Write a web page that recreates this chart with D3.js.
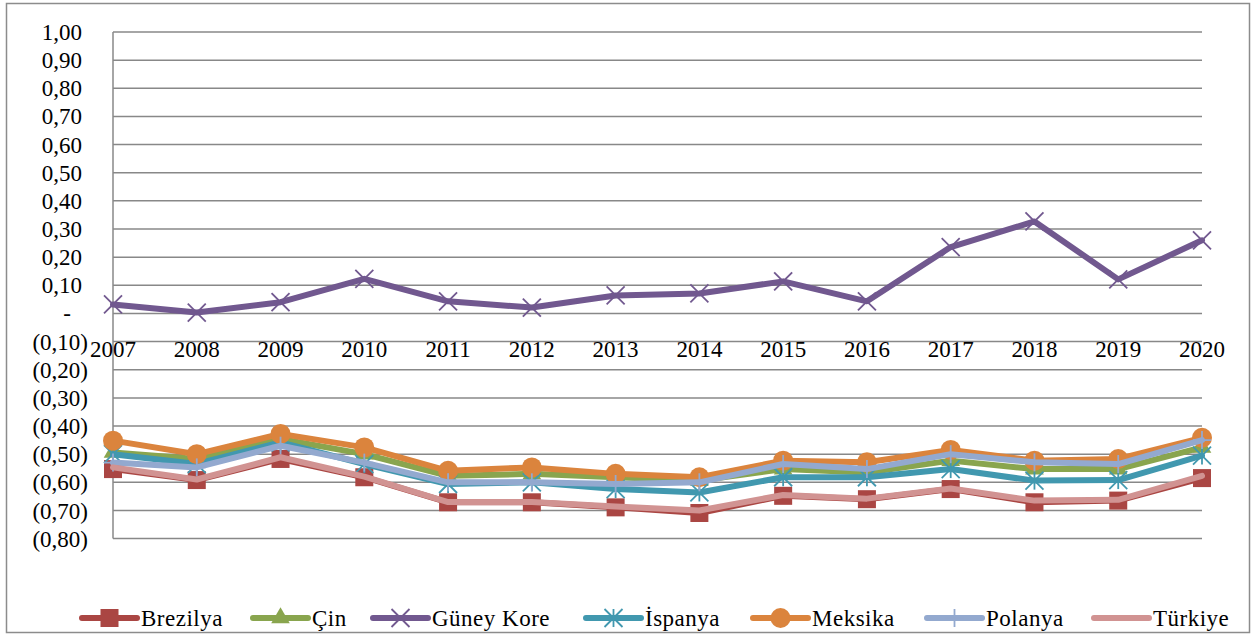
<!DOCTYPE html>
<html>
<head>
<meta charset="utf-8">
<script src="https://cdn.jsdelivr.net/npm/d3@7"></script>
<style>
  body { margin: 0; background: #fff; }
  text { font-family: "Liberation Serif", serif; fill: #000; }
</style>
</head>
<body>
<div id="chart"></div>
<script>
// data
var years = ["2007","2008","2009","2010","2011","2012","2013","2014","2015","2016","2017","2018","2019","2020"]
var brezilya  = [-0.553,-0.592,-0.517,-0.582,-0.671,-0.671,-0.689,-0.709,-0.648,-0.660,-0.624,-0.671,-0.665,-0.585]
var cin       = [-0.494,-0.517,-0.446,-0.500,-0.577,-0.570,-0.582,-0.594,-0.553,-0.565,-0.523,-0.553,-0.553,-0.476]
var guneyKore = [0.032,0.003,0.040,0.123,0.043,0.021,0.064,0.071,0.114,0.043,0.236,0.327,0.121,0.260]
var ispanya   = [-0.500,-0.535,-0.458,-0.535,-0.606,-0.600,-0.624,-0.636,-0.582,-0.582,-0.553,-0.594,-0.592,-0.505]
var meksika   = [-0.452,-0.500,-0.428,-0.476,-0.559,-0.547,-0.570,-0.582,-0.523,-0.529,-0.485,-0.523,-0.517,-0.442]
var polanya   = [-0.530,-0.547,-0.470,-0.530,-0.600,-0.600,-0.606,-0.600,-0.535,-0.553,-0.500,-0.529,-0.535,-0.450]
var turkiye   = [-0.547,-0.590,-0.511,-0.580,-0.670,-0.670,-0.686,-0.700,-0.645,-0.658,-0.622,-0.665,-0.662,-0.577]
var yTicks = [1.0,0.9,0.8,0.7,0.6,0.5,0.4,0.3,0.2,0.1,0,-0.1,-0.2,-0.3,-0.4,-0.5,-0.6,-0.7,-0.8]

var series = [
  {name: "Brezilya",   values: brezilya,  color: "#AA4643", marker: "square"},
  {name: "Çin",        values: cin,       color: "#89A54E", marker: "triangle"},
  {name: "Güney Kore", values: guneyKore, color: "#71588F", marker: "x"},
  {name: "İspanya",    values: ispanya,   color: "#4198AF", marker: "star"},
  {name: "Meksika",    values: meksika,   color: "#DB843D", marker: "circle"},
  {name: "Polanya",    values: polanya,   color: "#93A9CF", marker: "plus"},
  {name: "Türkiye",    values: turkiye,   color: "#D19392", marker: "none"}
]

var width = 1253, height = 637
var plotLeft = 113, plotRight = 1202, plotTop = 32, plotBottom = 538.6

var svg = d3.select("#chart").append("svg")
    .attr("width", width)
    .attr("height", height)

// outer frame
svg.append("rect")
    .attr("x", 6.5).attr("y", 3.5)
    .attr("width", 1243).attr("height", 629)
    .attr("fill", "none").attr("stroke", "#8c8c8c").attr("stroke-width", 1.5)

var x = d3.scalePoint().domain(years).range([plotLeft, plotRight])
var y = d3.scaleLinear().domain([-0.8, 1.0]).range([plotBottom, plotTop])

function fmt(v) {
  if (Math.abs(v) < 1e-9) return "-"
  var s = Math.abs(v).toFixed(2).replace(".", ",")
  return v < 0 ? "(" + s + ")" : s
}

// gridlines
svg.append("g")
  .selectAll("line")
  .data(yTicks)
  .join("line")
    .attr("x1", plotLeft).attr("x2", plotRight)
    .attr("y1", d => y(d)).attr("y2", d => y(d))
    .attr("stroke", "#888").attr("stroke-width", 1.5)

// y axis line
svg.append("line")
    .attr("x1", plotLeft).attr("x2", plotLeft)
    .attr("y1", plotTop).attr("y2", plotBottom)
    .attr("stroke", "#888").attr("stroke-width", 1.5)

// y labels
svg.append("g")
    .attr("font-size", 23)
  .selectAll("text")
  .data(yTicks)
  .join("text")
    .attr("x", d => d < 0 ? 88 : (d === 0 ? 67 : 82))
    .attr("y", d => y(d))
    .attr("dy", "0.35em")
    .attr("text-anchor", d => d === 0 ? "middle" : "end")
    .text(fmt)

// x labels
svg.append("g")
    .attr("font-size", 23)
    .attr("text-anchor", "middle")
  .selectAll("text")
  .data(years)
  .join("text")
    .attr("x", d => x(d))
    .attr("y", 357)
    .text(d => d)

function drawMarker(g, type, color) {
  if (type === "square") {
    g.append("rect").attr("x", -9).attr("y", -9).attr("width", 18).attr("height", 18).attr("fill", color)
  } else if (type === "circle") {
    g.append("circle").attr("r", 10).attr("fill", color)
  } else if (type === "triangle") {
    g.append("path").attr("d", d3.symbol(d3.symbolTriangle, 150)()).attr("fill", color)
  } else if (type === "x" || type === "star" || type === "plus") {
    var r = 9
    var segs = []
    if (type !== "plus") segs.push([-r, -r, r, r], [-r, r, r, -r])
    if (type !== "x") segs.push([0, -r, 0, r])
    if (type === "plus") segs.push([-r, 0, r, 0])
    segs.forEach(s => {
      g.append("line").attr("x1", s[0]).attr("y1", s[1]).attr("x2", s[2]).attr("y2", s[3])
        .attr("stroke", color).attr("stroke-width", 1.8)
    })
  }
}

var line = d3.line()
    .x((d, i) => x(years[i]))
    .y(d => y(d))

series.forEach(function(s) {
  var g = svg.append("g")
  g.append("path")
      .attr("d", line(s.values))
      .attr("fill", "none")
      .attr("stroke", s.color)
      .attr("stroke-width", 6)
      .attr("stroke-linejoin", "round")
      .attr("stroke-linecap", "round")
  s.values.forEach(function(v, i) {
    var m = g.append("g").attr("transform", "translate(" + x(years[i]) + "," + y(v) + ")")
    drawMarker(m, s.marker, s.color)
  })
})

// legend
var legendX = [82, 253, 373, 586, 753, 927, 1094]
var legendY = 618
series.forEach(function(s, i) {
  var g = svg.append("g").attr("transform", "translate(" + legendX[i] + "," + legendY + ")")
  g.append("line")
      .attr("x1", 0).attr("x2", 55)
      .attr("stroke", s.color).attr("stroke-width", 6).attr("stroke-linecap", "round")
  var m = g.append("g").attr("transform", "translate(27.5,0)")
  drawMarker(m, s.marker, s.color)
  g.append("text")
      .attr("x", 59).attr("dy", "0.35em")
      .attr("font-size", 23)
      .attr("letter-spacing", 0.5)
      .text(s.name)
})
</script>
</body>
</html>
